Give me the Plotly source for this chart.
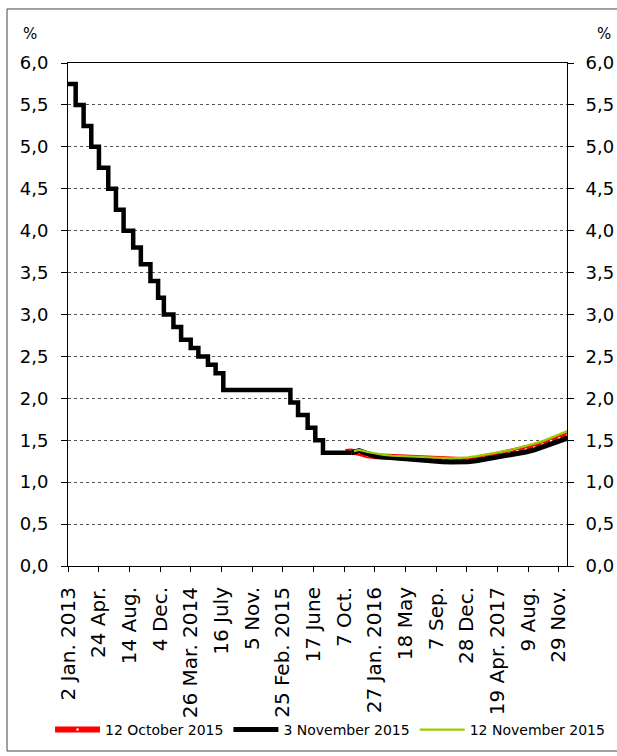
import plotly.graph_objects as go

# ---- data ----
hist_dates = ["2013-01-02", "2013-01-30", "2013-02-28", "2013-03-28", "2013-04-25", "2013-05-29",
              "2013-06-26", "2013-07-24", "2013-08-28", "2013-09-25", "2013-10-30", "2013-11-27",
              "2013-12-18", "2014-01-22", "2014-02-19", "2014-03-26", "2014-04-23", "2014-05-28",
              "2014-06-25", "2014-07-23", "2015-03-25", "2015-04-22", "2015-05-27", "2015-06-24",
              "2015-07-22", "2015-11-03"]
hist_rate = [5.75, 5.50, 5.25, 5.00, 4.75, 4.50,
             4.25, 4.00, 3.80, 3.60, 3.40, 3.20,
             3.00, 2.85, 2.70, 2.60, 2.50, 2.40,
             2.30, 2.10, 1.95, 1.80, 1.65, 1.50,
             1.35, 1.35]

fwd_month_dates = ["2015-12-01", "2016-01-01", "2016-02-01", "2016-03-01", "2016-04-01", "2016-05-01",
                   "2016-06-01", "2016-07-01", "2016-08-01", "2016-09-01", "2016-10-01", "2016-11-01",
                   "2016-12-01", "2017-01-01", "2017-02-01", "2017-03-01", "2017-04-01", "2017-05-01",
                   "2017-06-01", "2017-07-01", "2017-08-01", "2017-09-01", "2017-10-01", "2017-11-01",
                   "2017-12-01", "2017-12-31"]

oct12_dates = ["2015-10-12", "2015-11-01"] + fwd_month_dates
oct12_vals = [1.36, 1.365, 1.35, 1.32, 1.31, 1.305, 1.30, 1.30,
              1.295, 1.29, 1.28, 1.27, 1.26, 1.255,
              1.255, 1.26, 1.27, 1.29, 1.305, 1.325,
              1.345, 1.37, 1.39, 1.415, 1.45, 1.49,
              1.525, 1.56]

nov3_dates = ["2015-11-03"] + fwd_month_dates
nov3_vals = [1.35, 1.375, 1.34, 1.31, 1.30, 1.29, 1.28,
             1.27, 1.26, 1.255, 1.25, 1.245, 1.24,
             1.24, 1.245, 1.255, 1.27, 1.285, 1.30,
             1.32, 1.34, 1.36, 1.385, 1.42, 1.46,
             1.49, 1.525]

nov12_dates = ["2015-11-12"] + fwd_month_dates
nov12_vals = [1.37, 1.385, 1.36, 1.34, 1.325, 1.315, 1.31,
              1.305, 1.30, 1.295, 1.29, 1.285, 1.285,
              1.29, 1.295, 1.31, 1.325, 1.34, 1.36,
              1.38, 1.405, 1.43, 1.46, 1.49, 1.53,
              1.565, 1.61]

tick_dates = ["2013-01-02", "2013-04-24", "2013-08-14", "2013-12-04", "2014-03-26", "2014-07-16",
              "2014-11-05", "2015-02-25", "2015-06-17", "2015-10-07", "2016-01-27", "2016-05-18",
              "2016-09-07", "2016-12-28", "2017-04-19", "2017-08-09", "2017-11-29"]
tick_labels = ["2 Jan. 2013", "24 Apr.", "14 Aug.", "4 Dec.", "26 Mar. 2014", "16 July",
               "5 Nov.", "25 Feb. 2015", "17 June", "7 Oct.", "27 Jan. 2016", "18 May",
               "7 Sep.", "28 Dec.", "19 Apr. 2017", "9 Aug.", "29 Nov."]

series_names = ["12 October 2015", "3 November 2015", "12 November 2015"]

FONT = "DejaVu Sans"

fig = go.Figure()
fig.add_trace(go.Scatter(x=oct12_dates, y=oct12_vals, name=series_names[0], mode="lines+markers",
                         line=dict(color="#FF0000", width=6),
                         marker=dict(color="white", size=2.5, line=dict(width=0))))
fig.add_trace(go.Scatter(x=hist_dates, y=hist_rate, name=series_names[1], mode="lines",
                         line=dict(color="black", width=4.5, shape="hv"),
                         showlegend=False))
fig.add_trace(go.Scatter(x=nov3_dates, y=nov3_vals, name=series_names[1], mode="lines",
                         line=dict(color="black", width=5)))
fig.add_trace(go.Scatter(x=nov12_dates, y=nov12_vals, name=series_names[2], mode="lines",
                         line=dict(color="#99CC00", width=2.2), yaxis="y2"))

fig.update_layout(
    width=617, height=756,
    margin=dict(l=68, r=50, t=63, b=190, pad=0, autoexpand=False),
    paper_bgcolor="white", plot_bgcolor="white",
    separators=", ",
    font=dict(family=FONT, color="black"),
    showlegend=True,
    legend=dict(orientation="h", x=-0.036, xanchor="left", y=-0.326, yanchor="middle",
                font=dict(size=14, family=FONT), tracegroupgap=0, itemwidth=45,
                bgcolor="rgba(0,0,0,0)"),
    xaxis=dict(type="date", range=["2013-01-02", "2017-12-29"],
               tickmode="array", tickvals=tick_dates, ticktext=tick_labels,
               tickangle=-90, tickfont=dict(size=20, family=FONT),
               ticks="outside", ticklen=5, tickcolor="black", tickwidth=1,
               showline=True, linecolor="black", linewidth=1, mirror=True,
               showgrid=False, zeroline=False, ticklabelstandoff=7, automargin=False),
    yaxis=dict(range=[0, 6], dtick=0.5, tick0=0, tickformat=".1f",
               tickfont=dict(size=18, family=FONT),
               ticks="outside", ticklen=6, tickcolor="black",
               showline=True, linecolor="black", linewidth=1,
               showgrid=True, gridcolor="#555555", gridwidth=1, griddash="dot",
               zeroline=False, ticklabelstandoff=9, automargin=False),
    yaxis2=dict(range=[0, 6], dtick=0.5, tick0=0, tickformat=".1f", overlaying="y", side="right",
                tickfont=dict(size=18, family=FONT),
                ticks="outside", ticklen=6, tickcolor="black",
                showline=True, linecolor="black", linewidth=1,
                showgrid=False, zeroline=False, ticklabelstandoff=8, automargin=False),
)

fig.add_annotation(text="%", xref="paper", yref="paper", x=-0.0762, y=1.0577,
                   showarrow=False, font=dict(size=15, family=FONT), xanchor="center", yanchor="middle")
fig.add_annotation(text="%", xref="paper", yref="paper", x=1.0742, y=1.0577,
                   showarrow=False, font=dict(size=15, family=FONT), xanchor="center", yanchor="middle")

fig.add_shape(type="rect", xref="paper", yref="paper", x0=-0.1222, x1=1.11, y0=-0.3678, y1=1.1074,
              line=dict(color="#444444", width=1), fillcolor="rgba(0,0,0,0)", layer="below")

fig.write_html("out.html", config={"displayModeBar": False},
               post_script="document.body.style.margin='0';")
